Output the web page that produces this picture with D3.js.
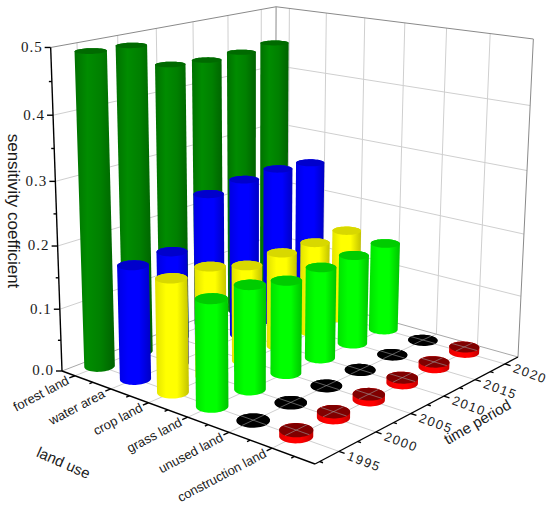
<!DOCTYPE html>
<html>
<head>
<meta charset="utf-8">
<script src="https://cdn.jsdelivr.net/npm/d3@7"></script>
<style>
  body { margin: 0; background: #fff; }
  text { font-family: "Liberation Sans", Arial, sans-serif; fill: #1a1a1a; }
</style>
</head>
<body>
<svg id="chart"></svg>
<script>
// data
var landUse = ['forest land', 'water area', 'crop land', 'grass land', 'unused land', 'construction land'];
var years = [1995, 2000, 2005, 2010, 2015, 2020];

var forest = [0.491, 0.488, 0.447, 0.442, 0.443, 0.447];
var water = [0.180, 0.181, 0.254, 0.260, 0.261, 0.255];
var crop = [0.177, 0.174, 0.155, 0.155, 0.152, 0.153];
var grass = [0.164, 0.163, 0.148, 0.148, 0.147, 0.147];
var unused = [0.001, 0.001, 0.001, 0.001, 0.001, 0.001];
var construction = [0.009, 0.009, 0.009, 0.009, 0.009, 0.009];

var series = [forest, water, crop, grass, unused, construction];
var zTicks = [0, 0.1, 0.2, 0.3, 0.4, 0.5];
var zLabels = ['0.0', '0.1', '0.2', '0.3', '0.4', '0.5'];

var colors = ['#008000', '#0000ff', '#ffff00', '#00ff00', '#000000', '#ff0000'];
var topColors = ['#006a00', '#0000cc', '#d8d800', '#00cc00', '#000000', '#800000'];

var svgWidth = 550;
var svgHeight = 507;

var svg = d3.select('#chart')
    .attr('width', svgWidth)
    .attr('height', svgHeight);

// screen position of the box corners (floor + top), perspective view
var box = {
    left: [62, 371], front: [315, 464], right: [518, 357], back: [275, 289],
    leftTop: [50, 45], backTop: [277, 8], rightTop: [533, 40]
};

var xScale = d3.scaleLinear().domain([-0.37, 5.95]).range([0, 1]);
var yScale = d3.scaleLinear().domain([1991.9, 2022.3]).range([0, 1]);
var zScale = d3.scaleLinear().domain([0, 0.5]).range([0, 1]);

var x0 = xScale.domain()[0], x1 = xScale.domain()[1];
var y0 = yScale.domain()[0], y1 = yScale.domain()[1];
var zTop = zScale.domain()[1];

// floor homography: unit square -> floor quad
function squareToQuad(p0, p1, p2, p3) {
    var dx1 = p1[0] - p2[0], dx2 = p3[0] - p2[0], dx3 = p0[0] - p1[0] + p2[0] - p3[0];
    var dy1 = p1[1] - p2[1], dy2 = p3[1] - p2[1], dy3 = p0[1] - p1[1] + p2[1] - p3[1];
    var den = dx1 * dy2 - dx2 * dy1;
    var g = (dx3 * dy2 - dx2 * dy3) / den;
    var h = (dx1 * dy3 - dx3 * dy1) / den;
    return [p1[0] - p0[0] + g * p1[0], p3[0] - p0[0] + h * p3[0], p0[0],
            p1[1] - p0[1] + g * p1[1], p3[1] - p0[1] + h * p3[1], p0[1],
            g, h, 1];
}
var H = squareToQuad(box.left, box.front, box.right, box.back);

// vertical column of the camera matrix, least squares on the top corners
var V = (function () {
    var tops = [[0, 0, box.leftTop], [0, 1, box.backTop], [1, 1, box.rightTop]];
    var rows = [], rhs = [];
    tops.forEach(function (t) {
        var u = t[0], v = t[1], X = t[2][0], Y = t[2][1];
        var q1 = H[0] * u + H[1] * v + H[2];
        var q2 = H[3] * u + H[4] * v + H[5];
        var q3 = H[6] * u + H[7] * v + H[8];
        rows.push([1, 0, -X]); rhs.push(X * q3 - q1);
        rows.push([0, 1, -Y]); rhs.push(Y * q3 - q2);
    });
    var M = [[0, 0, 0], [0, 0, 0], [0, 0, 0]], B = [0, 0, 0];
    rows.forEach(function (r, k) {
        for (var i = 0; i < 3; i++) {
            B[i] += r[i] * rhs[k];
            for (var j = 0; j < 3; j++) M[i][j] += r[i] * r[j];
        }
    });
    function det(m) {
        return m[0][0] * (m[1][1] * m[2][2] - m[1][2] * m[2][1])
             - m[0][1] * (m[1][0] * m[2][2] - m[1][2] * m[2][0])
             + m[0][2] * (m[1][0] * m[2][1] - m[1][1] * m[2][0]);
    }
    var D = det(M);
    return [0, 1, 2].map(function (c) {
        var m = M.map(function (row, i) {
            return row.map(function (val, j) { return j === c ? B[i] : val; });
        });
        return det(m) / D;
    });
})();

function projectUVW(u, v, w) {
    var px = H[0] * u + H[1] * v + H[2] + w * V[0];
    var py = H[3] * u + H[4] * v + H[5] + w * V[1];
    var pw = H[6] * u + H[7] * v + H[8] + w * V[2];
    return [px / pw, py / pw];
}
function project(x, y, z) {
    return projectUVW(xScale(x), yScale(y), zScale(z));
}
function depth(x, y) {
    return H[6] * xScale(x) + H[7] * yScale(y) + H[8];
}

var line = d3.line();

// walls and floor
var grid = svg.append('g')
    .attr('fill', 'none')
    .attr('stroke', '#cfcfcf')
    .attr('stroke-width', 1);

years.forEach(function (yr) {
    grid.append('path').attr('d', line([project(x0, yr, 0), project(x0, yr, zTop)]));
    grid.append('path').attr('d', line([project(x0, yr, 0), project(x1, yr, 0)]));
});
landUse.forEach(function (name, i) {
    grid.append('path').attr('d', line([project(i, y1, 0), project(i, y1, zTop)]));
    grid.append('path').attr('d', line([project(i, y0, 0), project(i, y1, 0)]));
});
zTicks.slice(1, -1).forEach(function (z) {
    grid.append('path').attr('d', line([project(x0, y0, z), project(x0, y1, z), project(x1, y1, z)]));
});

var frame = svg.append('g')
    .attr('fill', 'none')
    .attr('stroke', '#8a8a8a')
    .attr('stroke-width', 1);
frame.append('path').attr('d', line([project(x0, y0, zTop), project(x0, y1, zTop), project(x1, y1, zTop)]));
frame.append('path').attr('d', line([project(x0, y1, 0), project(x0, y1, zTop)]));
frame.append('path').attr('d', line([project(x1, y1, 0), project(x1, y1, zTop)]));
frame.append('path').attr('d', line([project(x0, y0, 0), project(x0, y1, 0), project(x1, y1, 0)]))
    .attr('stroke', '#a8a8a8');

// cylinder gradients
var defs = svg.append('defs');
colors.forEach(function (c, i) {
    var base = d3.color(c);
    var grad = defs.append('linearGradient')
        .attr('id', 'side' + i)
        .attr('x1', 0).attr('x2', 1).attr('y1', 0).attr('y2', 0);
    [[0, base.darker(0.35)], [0.32, base.brighter(0.25)], [0.65, base], [1, base.darker(0.75)]]
        .forEach(function (s) {
            grad.append('stop').attr('offset', s[0]).attr('stop-color', s[1].formatHex());
        });
});

// bars, far to near
var radius = 0.047;
var steps = 48;
var bars = [];
series.forEach(function (vals, i) {
    vals.forEach(function (val, j) {
        bars.push({ i: i, j: j, value: val });
    });
});
bars.sort(function (a, b) {
    return depth(b.i, years[b.j]) - depth(a.i, years[a.j]);
});

var barLayer = svg.append('g');
bars.forEach(function (d) {
    var cu = xScale(d.i), cv = yScale(years[d.j]), wt = zScale(d.value);
    var ring = function (w) {
        return d3.range(steps).map(function (k) {
            var a = 2 * Math.PI * k / steps;
            return projectUVW(cu + radius * Math.cos(a), cv + radius * Math.sin(a), w);
        });
    };
    var bottom = ring(0), top = ring(wt);
    var hull = d3.polygonHull(bottom.concat(top));
    barLayer.append('path')
        .attr('d', 'M' + hull.join('L') + 'Z')
        .attr('fill', 'url(#side' + d.i + ')');
    barLayer.append('path')
        .attr('d', 'M' + top.join('L') + 'Z')
        .attr('fill', topColors[d.i]);
    // thin discs: floor grid shows across the top
    if (d.value < 0.02) {
        barLayer.append('path')
            .attr('d', line([projectUVW(cu - radius, cv, wt), projectUVW(cu + radius, cv, wt)]) +
                       line([projectUVW(cu, cv - radius, wt), projectUVW(cu, cv + radius, wt)]))
            .attr('stroke', '#9a9a9a')
            .attr('stroke-opacity', 0.75)
            .attr('stroke-width', 0.8)
            .attr('fill', 'none');
    }
});

// axes
var axes = svg.append('g')
    .attr('fill', 'none')
    .attr('stroke', '#000')
    .attr('stroke-width', 1.4);
axes.append('path').attr('d', line([project(x0, y0, 0), project(x0, y0, zTop)]));
axes.append('path').attr('d', line([project(x0, y0, 0), project(x1, y0, 0)]));
axes.append('path').attr('d', line([project(x1, y0, 0), project(x1, y1, 0)]));

function unit(a, b) {
    var dx = b[0] - a[0], dy = b[1] - a[1], l = Math.sqrt(dx * dx + dy * dy);
    return [dx / l, dy / l];
}
function tick(p, dir, len) {
    axes.append('path').attr('d', line([p, [p[0] + dir[0] * len, p[1] + dir[1] * len]]));
}

var labels = svg.append('g');

// z axis
zTicks.forEach(function (z, k) {
    var p = project(x0, y0, z);
    tick(p, [-1, 0], 6);
    labels.append('text')
        .attr('x', p[0] - 8)
        .attr('y', p[1] + 1)
        .attr('text-anchor', 'end')
        .attr('dominant-baseline', 'middle')
        .style('font-family', '"Liberation Serif", "Times New Roman", serif')
        .style('font-size', '15px')
        .style('letter-spacing', '1px')
        .text(zLabels[k]);
});
d3.range(0.05, zTop, 0.1).forEach(function (z) {
    tick(project(x0, y0, z), [-1, 0], 3);
});

// land use axis
var timeDir = unit(project(x1, y0, 0), project(x1, y1, 0));
var timeAngle = Math.atan2(timeDir[1], timeDir[0]) * 180 / Math.PI;
landUse.forEach(function (name, i) {
    var p = project(i, y0, 0);
    var dir = unit(project(i, y0, 0), project(i, y0 - 1, 0));
    tick(p, dir, 6);
    var lx = p[0] + dir[0] * 7, ly = p[1] + dir[1] * 7 + 2;
    labels.append('text')
        .attr('transform', 'translate(' + lx + ',' + ly + ') rotate(' + timeAngle + ')')
        .attr('text-anchor', 'end')
        .attr('dominant-baseline', 'middle')
        .style('font-size', '13px')
        .text(name);
});
d3.range(0.5, x1, 1).forEach(function (x) {
    var p = project(x, y0, 0);
    tick(p, unit(p, project(x, y0 - 1, 0)), 3.5);
});

// time axis
var landDir = unit(project(x0, y0, 0), project(x1, y0, 0));
var landAngle = Math.atan2(landDir[1], landDir[0]) * 180 / Math.PI;
years.forEach(function (yr) {
    var p = project(x1, yr, 0);
    var dir = unit(p, project(x1 + 0.5, yr, 0));
    tick(p, dir, 6);
    var lx = p[0] + dir[0] * 9, ly = p[1] + dir[1] * 9 + 2;
    labels.append('text')
        .attr('transform', 'translate(' + lx + ',' + ly + ') rotate(' + landAngle + ')')
        .attr('text-anchor', 'start')
        .attr('dominant-baseline', 'middle')
        .style('font-size', '13px')
        .style('letter-spacing', '1.5px')
        .text(yr);
});
d3.range(1992.5, y1, 5).forEach(function (yr) {
    var p = project(x1, yr, 0);
    tick(p, unit(p, project(x1 + 0.5, yr, 0)), 3.5);
});

// axis titles
labels.append('text')
    .attr('transform', 'translate(12,211) rotate(90)')
    .attr('text-anchor', 'middle')
    .attr('dominant-baseline', 'middle')
    .style('font-size', '17px')
    .text('sensitivity coefficient');

labels.append('text')
    .attr('transform', 'translate(63,464) rotate(24)')
    .attr('text-anchor', 'middle')
    .attr('dominant-baseline', 'middle')
    .style('font-size', '15px')
    .text('land use');

labels.append('text')
    .attr('transform', 'translate(478,423) rotate(-30)')
    .attr('text-anchor', 'middle')
    .attr('dominant-baseline', 'middle')
    .style('font-size', '15px')
    .text('time period');
</script>
</body>
</html>
